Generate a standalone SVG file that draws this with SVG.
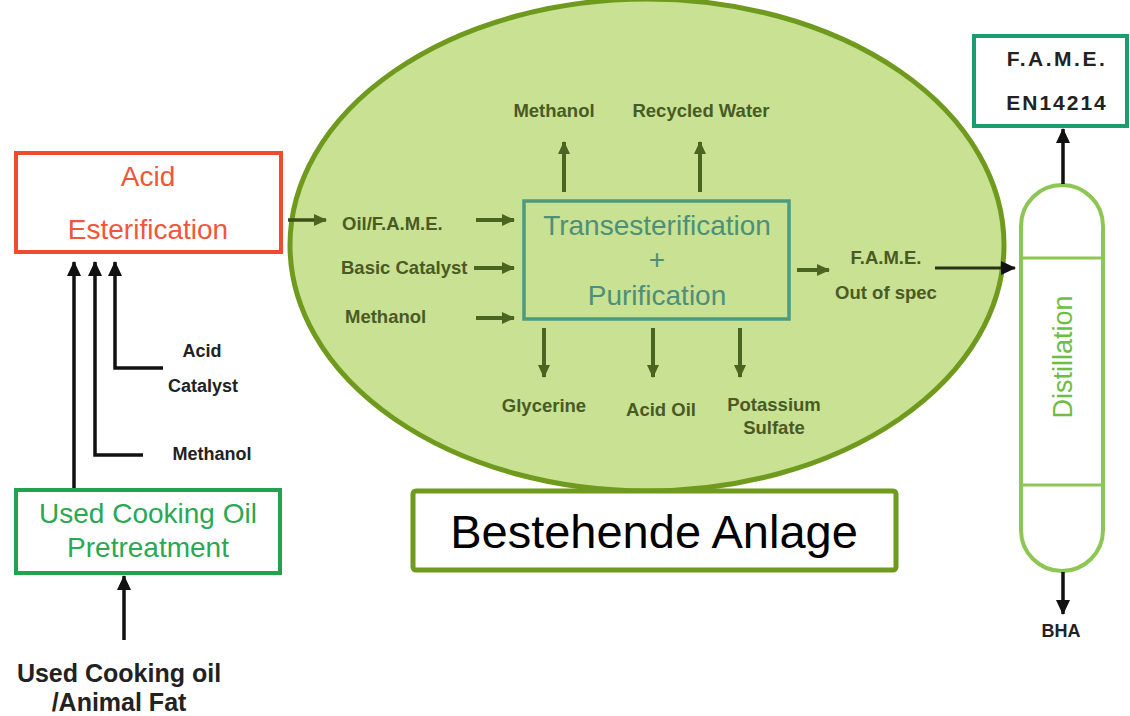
<svg xmlns="http://www.w3.org/2000/svg" width="1130" height="716" viewBox="0 0 1130 716">
<defs>
<marker id="ab" markerUnits="userSpaceOnUse" markerWidth="16" markerHeight="16" refX="14" refY="8" orient="auto"><path d="M0,1 L15,8 L0,15 Z" fill="#111"/></marker>
<marker id="ag" markerUnits="userSpaceOnUse" markerWidth="14" markerHeight="14" refX="12" refY="7" orient="auto"><path d="M0,1 L13,7 L0,13 Z" fill="#4b6421"/></marker>
<style>
.blk{stroke:#111;stroke-width:3.5;fill:none}
.olv{stroke:#4b6421;stroke-width:4;fill:none}
.lbl{font-family:"Liberation Sans",Arial,sans-serif;font-weight:bold;font-size:18.5px;fill:#4a5a24}
.blab{font-family:"Liberation Sans",Arial,sans-serif;font-weight:bold;font-size:18px;fill:#222}
.big{font-family:"Liberation Sans",Arial,sans-serif;font-size:28px}
</style>
</defs>
<rect width="1130" height="716" fill="#fff"/>
<g id="plant">
<ellipse cx="647" cy="245" rx="357" ry="246" fill="#c8e193" stroke="#6f9a1e" stroke-width="5"/>
</g>
<g id="acid-esterification">
<rect x="16" y="153" width="265" height="99" fill="#fff" stroke="#ef4a32" stroke-width="4"/>
<text class="big" x="148" y="186" text-anchor="middle" fill="#f0563c">Acid</text>
<text class="big" x="148" y="239" text-anchor="middle" fill="#f0563c">Esterification</text>
</g>
<g id="pretreatment">
<rect x="16" y="490" width="264" height="83" fill="#fff" stroke="#21a24e" stroke-width="4"/>
<text class="big" x="148" y="523" text-anchor="middle" fill="#2aa852">Used Cooking Oil</text>
<text class="big" x="148" y="557" text-anchor="middle" fill="#2aa852">Pretreatment</text>
</g>
<g id="transesterification">
<rect x="524" y="201" width="265" height="118" fill="none" stroke="#4e9a80" stroke-width="3.5"/>
<text class="big" x="657" y="235" text-anchor="middle" fill="#4e8f78">Transesterification</text>
<text class="big" x="657" y="269" text-anchor="middle" fill="#4e8f78">+</text>
<text class="big" x="657" y="305" text-anchor="middle" fill="#4e8f78">Purification</text>
</g>
<g id="distillation">
<path d="M1021,226 A41,41 0 0 1 1103,226 L1103,530 A41,41 0 0 1 1021,530 Z" fill="#fff" stroke="#8dc753" stroke-width="4"/>
<line x1="1021" y1="258" x2="1103" y2="258" stroke="#8dc753" stroke-width="3"/>
<line x1="1021" y1="485" x2="1103" y2="485" stroke="#8dc753" stroke-width="3"/>
<text x="1072" y="357" transform="rotate(-90 1072 357)" text-anchor="middle" font-family="'Liberation Sans',Arial,sans-serif" font-size="27" fill="#6cbe45">Distillation</text>
</g>
<g id="fame-product">
<rect x="974" y="36" width="153" height="90" fill="#fff" stroke="#1a9e6e" stroke-width="4"/>
<text x="1057" y="66" text-anchor="middle" font-family="'Liberation Sans',Arial,sans-serif" font-weight="bold" font-size="21" letter-spacing="2.5" fill="#222">F.A.M.E.</text>
<text x="1057" y="110" text-anchor="middle" font-family="'Liberation Sans',Arial,sans-serif" font-weight="bold" font-size="21" letter-spacing="2" fill="#222">EN14214</text>
</g>
<g id="bestehende-anlage">
<rect x="413" y="491" width="483" height="79" rx="3" fill="#fff" stroke="#6f9a1e" stroke-width="5"/>
<text x="654" y="548" text-anchor="middle" font-family="'Liberation Sans',Arial,sans-serif" font-size="47" fill="#000">Bestehende Anlage</text>
</g>
<g id="labels">
<text class="lbl" x="554" y="117" text-anchor="middle">Methanol</text>
<text class="lbl" x="701" y="117" text-anchor="middle">Recycled Water</text>
<text class="lbl" x="342" y="230">Oil/F.A.M.E.</text>
<text class="lbl" x="341" y="274">Basic Catalyst</text>
<text class="lbl" x="345" y="323">Methanol</text>
<text class="lbl" x="544" y="412" text-anchor="middle">Glycerine</text>
<text class="lbl" x="661" y="416" text-anchor="middle">Acid Oil</text>
<text class="lbl" x="774" y="411" text-anchor="middle">Potassium</text>
<text class="lbl" x="774" y="434" text-anchor="middle">Sulfate</text>
<text class="lbl" x="886" y="264" text-anchor="middle">F.A.M.E.</text>
<text class="lbl" x="886" y="299" text-anchor="middle">Out of spec</text>
<text class="blab" x="202" y="357" text-anchor="middle">Acid</text>
<text class="blab" x="203" y="392" text-anchor="middle">Catalyst</text>
<text class="blab" x="212" y="460" text-anchor="middle">Methanol</text>
<text x="119" y="682" text-anchor="middle" font-family="'Liberation Sans',Arial,sans-serif" font-weight="bold" font-size="25" fill="#222">Used Cooking oil</text>
<text x="119" y="711" text-anchor="middle" font-family="'Liberation Sans',Arial,sans-serif" font-weight="bold" font-size="25" fill="#222">/Animal Fat</text>
<text x="1061" y="637" text-anchor="middle" font-family="'Liberation Sans',Arial,sans-serif" font-weight="bold" font-size="18" fill="#222">BHA</text>
</g>
<g id="connectors">
<path class="blk" d="M74,488 L74,262" marker-end="url(#ab)"/>
<path class="blk" d="M143,455 L95,455 L95,262" marker-end="url(#ab)"/>
<path class="blk" d="M163,368 L115,368 L115,262" marker-end="url(#ab)"/>
<path class="blk" d="M124,640 L124,576" marker-end="url(#ab)"/>
<path d="M288,220 L326,220" stroke="#3d4d1a" stroke-width="3.5" fill="none" marker-end="url(#ag)"/>
<path class="olv" d="M476,220 L514,220" marker-end="url(#ag)"/>
<path class="olv" d="M474,268 L514,268" marker-end="url(#ag)"/>
<path class="olv" d="M476,318 L514,318" marker-end="url(#ag)"/>
<path class="olv" d="M564,192 L564,142" marker-end="url(#ag)"/>
<path class="olv" d="M700,192 L700,142" marker-end="url(#ag)"/>
<path class="olv" d="M544,328 L544,377" marker-end="url(#ag)"/>
<path class="olv" d="M653,328 L653,377" marker-end="url(#ag)"/>
<path class="olv" d="M740,328 L740,377" marker-end="url(#ag)"/>
<path class="olv" d="M797,270 L829,270" marker-end="url(#ag)"/>
<path d="M935,268 L1015,268" stroke="#2a3214" stroke-width="3" fill="none" marker-end="url(#ab)"/>
<path class="blk" d="M1063,184 L1063,129" marker-end="url(#ab)"/>
<path class="blk" d="M1063,572 L1063,614" marker-end="url(#ab)"/>
</g>
</svg>
